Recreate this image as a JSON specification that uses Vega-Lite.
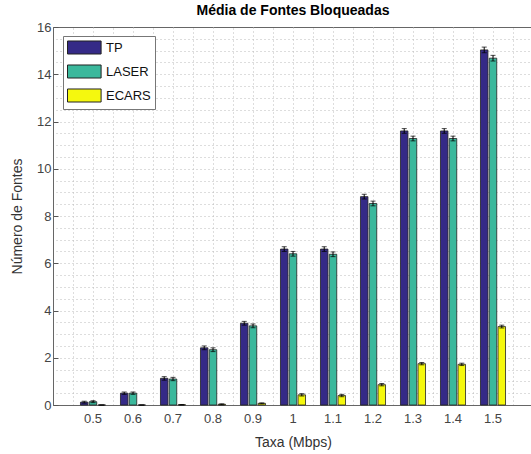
{
  "$schema": "https://vega.github.io/schema/vega-lite/v6.json",
  "width": 480,
  "height": 378,
  "autosize": "none",
  "padding": {"left": 53, "top": 27, "right": 0, "bottom": 49},
  "background": "white",
  "config": {
    "font": "Liberation Sans",
    "view": {"stroke": "#666", "strokeWidth": 1}
  },
  "title": {"text": "Média de Fontes Bloqueadas", "fontSize": 14, "fontWeight": "bold", "color": "#000", "offset": 3, "anchor": "middle"},
  "data": {"values": [
    {"taxa": "0.5", "metodo": "TP", "valor": 0.12, "lo": 0.08, "hi": 0.16},
    {"taxa": "0.5", "metodo": "LASER", "valor": 0.14, "lo": 0.10, "hi": 0.18},
    {"taxa": "0.5", "metodo": "ECARS", "valor": 0.0, "lo": 0.0, "hi": 0.0},
    {"taxa": "0.6", "metodo": "TP", "valor": 0.5, "lo": 0.45, "hi": 0.55},
    {"taxa": "0.6", "metodo": "LASER", "valor": 0.5, "lo": 0.45, "hi": 0.55},
    {"taxa": "0.6", "metodo": "ECARS", "valor": 0.0, "lo": 0.0, "hi": 0.0},
    {"taxa": "0.7", "metodo": "TP", "valor": 1.13, "lo": 1.05, "hi": 1.2},
    {"taxa": "0.7", "metodo": "LASER", "valor": 1.1, "lo": 1.03, "hi": 1.17},
    {"taxa": "0.7", "metodo": "ECARS", "valor": 0.01, "lo": 0.0, "hi": 0.02},
    {"taxa": "0.8", "metodo": "TP", "valor": 2.42, "lo": 2.34, "hi": 2.5},
    {"taxa": "0.8", "metodo": "LASER", "valor": 2.34, "lo": 2.26, "hi": 2.42},
    {"taxa": "0.8", "metodo": "ECARS", "valor": 0.03, "lo": 0.01, "hi": 0.05},
    {"taxa": "0.9", "metodo": "TP", "valor": 3.46, "lo": 3.38, "hi": 3.54},
    {"taxa": "0.9", "metodo": "LASER", "valor": 3.35, "lo": 3.27, "hi": 3.43},
    {"taxa": "0.9", "metodo": "ECARS", "valor": 0.07, "lo": 0.05, "hi": 0.09},
    {"taxa": "1", "metodo": "TP", "valor": 6.6, "lo": 6.5, "hi": 6.7},
    {"taxa": "1", "metodo": "LASER", "valor": 6.4, "lo": 6.3, "hi": 6.5},
    {"taxa": "1", "metodo": "ECARS", "valor": 0.43, "lo": 0.38, "hi": 0.48},
    {"taxa": "1.1", "metodo": "TP", "valor": 6.6, "lo": 6.5, "hi": 6.7},
    {"taxa": "1.1", "metodo": "LASER", "valor": 6.38, "lo": 6.28, "hi": 6.48},
    {"taxa": "1.1", "metodo": "ECARS", "valor": 0.4, "lo": 0.35, "hi": 0.45},
    {"taxa": "1.2", "metodo": "TP", "valor": 8.82, "lo": 8.72, "hi": 8.92},
    {"taxa": "1.2", "metodo": "LASER", "valor": 8.53, "lo": 8.43, "hi": 8.63},
    {"taxa": "1.2", "metodo": "ECARS", "valor": 0.86, "lo": 0.81, "hi": 0.91},
    {"taxa": "1.3", "metodo": "TP", "valor": 11.6, "lo": 11.5, "hi": 11.7},
    {"taxa": "1.3", "metodo": "LASER", "valor": 11.28, "lo": 11.18, "hi": 11.38},
    {"taxa": "1.3", "metodo": "ECARS", "valor": 1.75, "lo": 1.7, "hi": 1.8},
    {"taxa": "1.4", "metodo": "TP", "valor": 11.6, "lo": 11.5, "hi": 11.7},
    {"taxa": "1.4", "metodo": "LASER", "valor": 11.28, "lo": 11.18, "hi": 11.38},
    {"taxa": "1.4", "metodo": "ECARS", "valor": 1.72, "lo": 1.67, "hi": 1.77},
    {"taxa": "1.5", "metodo": "TP", "valor": 15.03, "lo": 14.91, "hi": 15.15},
    {"taxa": "1.5", "metodo": "LASER", "valor": 14.68, "lo": 14.56, "hi": 14.8},
    {"taxa": "1.5", "metodo": "ECARS", "valor": 3.32, "lo": 3.26, "hi": 3.38}
  ]},
  "encoding": {
    "x": {"field": "taxa", "type": "ordinal", "sort": null,
          "scale": {"paddingInner": 0, "paddingOuter": 0.5}},
    "xOffset": {"field": "metodo", "type": "nominal", "sort": ["TP", "LASER", "ECARS"],
                "scale": {"paddingInner": 0.15, "paddingOuter": 0.85}}
  },
  "layer": [
    {
      "mark": {"type": "bar", "stroke": "#222", "strokeWidth": 0.8},
      "encoding": {
        "x": {"field": "taxa", "type": "ordinal", "sort": null,
              "axis": {"orient": "bottom", "labelAngle": 0, "labelFontSize": 13, "labelColor": "#444",
                       "labelPadding": 12, "tickSize": -5, "tickColor": "#555", "domainColor": "#666",
                       "grid": true, "gridDash": [1, 3], "gridColor": "#bbb",
                       "title": "Taxa (Mbps)", "titleFontSize": 14, "titleFontWeight": "normal",
                       "titleColor": "#333", "titlePadding": 10}},
        "y": {"field": "valor", "type": "quantitative",
              "scale": {"domain": [0, 16], "nice": false, "zero": true},
              "axis": {"orient": "left", "values": [0, 2, 4, 6, 8, 10, 12, 14, 16], "grid": false,
                       "labelFontSize": 13, "labelColor": "#444", "labelPadding": 7,
                       "tickSize": -5, "tickColor": "#555", "domainColor": "#666",
                       "title": "Número de Fontes", "titleFontSize": 14, "titleFontWeight": "normal",
                       "titleColor": "#333", "titlePadding": 12}},
        "color": {"field": "metodo", "type": "nominal",
                  "scale": {"domain": ["TP", "LASER", "ECARS"], "range": ["#352a87", "#3bb89c", "#f5f80e"]},
                  "legend": {"orient": "none", "legendX": 10, "legendY": 9, "title": null,
                             "direction": "vertical",
                             "symbolType": "M-1,-0.93H3.8V0.93H-1Z", "symbolSize": 196,
                             "symbolStrokeColor": "#222", "symbolStrokeWidth": 1, "symbolOpacity": 1,
                             "labelFontSize": 13, "labelColor": "#111", "labelOffset": 24,
                             "strokeColor": "#777", "fillColor": "white", "padding": 4,
                             "rowPadding": 5}}
      }
    },
    {
      "mark": {"type": "rule", "color": "#000", "strokeWidth": 1},
      "encoding": {
        "x": {"field": "taxa", "type": "ordinal", "sort": null,
              "axis": {"orient": "top", "tickBand": "extent", "labels": false, "ticks": false,
                       "domain": false, "grid": true, "gridDash": [1, 3], "gridColor": "#bbb", "title": null}},
        "y": {"field": "lo", "type": "quantitative",
              "axis": {"orient": "right", "values": [0.5, 1, 1.5, 2, 2.5, 3, 3.5, 4, 4.5, 5, 5.5, 6, 6.5, 7, 7.5, 8, 8.5, 9, 9.5, 10, 10.5, 11, 11.5, 12, 12.5, 13, 13.5, 14, 14.5, 15, 15.5],
                       "labels": false, "ticks": false, "domain": false, "grid": true,
                       "gridDash": [1, 3], "gridColor": "#bbb", "title": null}},
        "y2": {"field": "hi"}
      }
    },
    {
      "mark": {"type": "tick", "color": "#000", "thickness": 1, "size": 5},
      "encoding": {
        "x": {"field": "taxa", "type": "ordinal", "sort": null, "axis": null},
        "y": {"field": "lo", "type": "quantitative", "axis": null}
      }
    },
    {
      "mark": {"type": "tick", "color": "#000", "thickness": 1, "size": 5},
      "encoding": {
        "x": {"field": "taxa", "type": "ordinal", "sort": null, "axis": null},
        "y": {"field": "hi", "type": "quantitative", "axis": null}
      }
    }
  ],
  "resolve": {"axis": {"x": "independent", "y": "independent"}}
}
